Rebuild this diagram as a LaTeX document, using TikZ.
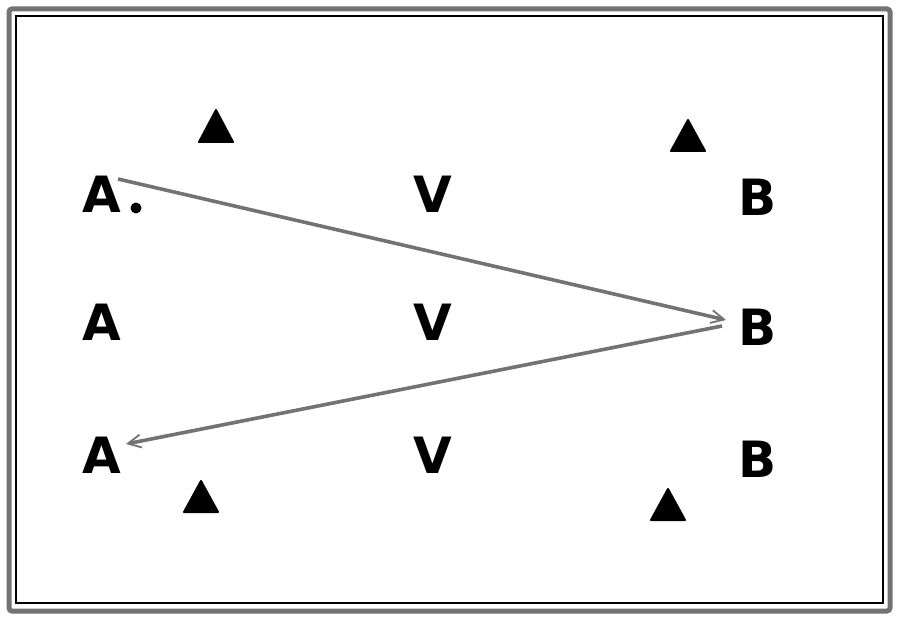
\documentclass[tikz,border=0pt]{standalone}
\usepackage{fontspec}
\setmainfont{DejaVu Sans}
\usetikzlibrary{arrows.meta}
\begin{document}
\begin{tikzpicture}[x=1pt,y=-1pt,
  lbl/.style={font=\fontsize{50}{50}\selectfont\bfseries, inner sep=0pt},
  cone/.style={fill=black, draw=black, line join=round, line width=2pt},
  run/.style={draw=black!55, line width=3.6pt, -{Straight Barb[length=13pt,width=13pt,line width=1.8pt]}}]
\useasboundingbox (0,0) rectangle (900,620);
\draw[black!55, line width=5pt, rounded corners=3pt] (9,9) rectangle (890,611);
\draw[black, line width=2pt] (16,16) rectangle (883,603);
% letters
\node[lbl] (a1) at (102,194) {A};
\node[lbl] (v1) at (433,194) {V};
\node[lbl] (b1) at (758,197) {B};
\node[lbl] (a2) at (102,322) {A};
\node[lbl] (v2) at (433,322) {V};
\node[lbl] (b2) at (758,327) {B};
\node[lbl] (a3) at (102,455) {A};
\node[lbl] (v3) at (433,455) {V};
\node[lbl] (b3) at (758,459) {B};
\node[circle, fill=black, inner sep=0pt, minimum size=11pt] (ball) at (136,208) {};
% cones
\draw[cone] (199,142) -- (216,110) -- (233,142) -- cycle;
\draw[cone] (671,151) -- (688,120) -- (705,151) -- cycle;
\draw[cone] (184,512) -- (201,481) -- (218,512) -- cycle;
\draw[cone] (651,520) -- (668,489) -- (685,520) -- cycle;
% runs
\coordinate (s1) at (118,179);
\coordinate (t1) at (726,320);
\coordinate (s2) at (722,326);
\coordinate (t2) at (126,444);
\draw[run] (s1) -- (t1);
\draw[run] (s2) -- (t2);
\end{tikzpicture}
\end{document}
